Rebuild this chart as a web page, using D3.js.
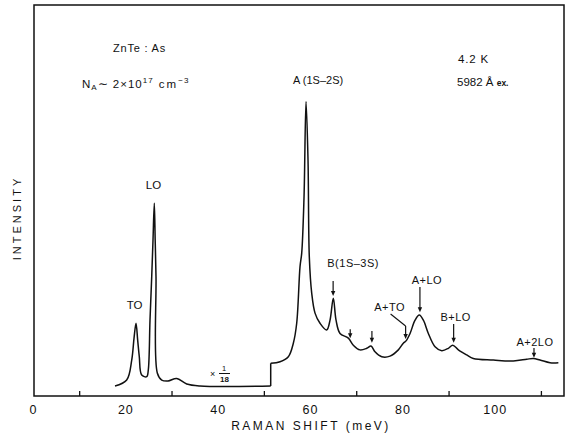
<!DOCTYPE html>
<html>
<head>
<meta charset="utf-8">
<script src="https://cdn.jsdelivr.net/npm/d3@7"></script>
<style>
  body { margin: 0; background: #fff; }
  svg text { font-family: "Liberation Sans", Arial, sans-serif; fill: #111; }
</style>
</head>
<body>
<svg id="chart" width="569" height="435"></svg>
<script>
// axis ticks (meV)
const xTicks = [0, 20, 40, 60, 80, 100];
const xMinorTicks = [10, 30, 50, 70, 90, 110];

// low energy part of the spectrum (shown x 1/18), energy in meV, intensity arb. units
const lowE = [17.76, 20.29, 21.38, 21.88, 22.31, 22.67, 23.02, 23.54, 24.63, 24.97, 25.34, 25.71, 25.99,
  26.27, 26.46, 26.64, 26.92, 27.88, 29.24, 31.12, 33.29, 36.17, 51.48];
const lowI = [2.56, 4.09, 9.2, 14.8, 18.6, 14.3, 10.05, 5.37, 4.94, 6.65, 19.4, 30.5, 39.9,
  49.3, 39.9, 30.5, 5.9, 4.09, 3.84, 4.48, 3.07, 2.56, 2.56];

// high energy part of the spectrum
const highE = [51.48, 53.5, 55.3, 56.38, 57.11, 57.83, 58.2, 58.7, 59.13, 59.56, 59.84, 60.36, 61.08,
  62.16, 63.61, 64.33, 65.04, 65.63, 66.49, 68.29, 69.37, 70.82, 72.28, 73.21, 74.07, 75.53, 77.32,
  79.12, 80.2, 80.79, 81.66, 82.74, 83.67, 84.54, 85.62, 87.07, 88.52, 89.95, 90.9, 92.12, 93.93,
  95.36, 99.7, 104.03, 106.93, 108.36, 109.81, 111.98, 113.78];
const highI = [8.36, 8.77, 10.05, 13.5, 18.6, 33.1, 36.6, 51, 75.3, 60.4, 35.6, 26.3, 21.2,
  18.6, 16.9, 19.4, 25, 19.4, 16, 14.8, 13, 11.8, 12.2, 12.8, 11.3, 10.05, 10.2,
  11.8, 13.5, 14.1, 16, 19.4, 20.7, 19.4, 16, 12.6, 11.6, 12.2, 13, 11.8, 10.5,
  9.6, 9.2, 8.95, 9.4, 9.6, 9.2, 8.5, 8.5];

// arrow annotations
const annLabels = ["B(1S\u20133S)", "", "", "A+TO", "A+LO", "B+LO", "A+2LO"];
const annE = [65.0, 68.7, 73.4, 80.7, 83.8, 91.1, 108.5];
const annTip = [25.6, 14.8, 13.6, 14.6, 21.4, 13.6, 9.8];
const annTail = [29.4, 17.1, 16.6, 17.9, 27.9, 18.4, 12.3];

const svg = d3.select("#chart");
const x = d3.scaleLinear().domain([0, 115]).range([33, 564]);
const y = d3.scaleLinear().domain([0, 100]).range([396, 5]);

// frame
svg.append("rect").attr("x", 34).attr("y", 5).attr("width", 530).attr("height", 391)
  .attr("fill", "none").attr("stroke", "#111").attr("stroke-width", 1.5);

// x axis
const ax = svg.append("g").attr("transform", "translate(0,396)")
  .call(d3.axisBottom(x).tickValues(xTicks).tickSize(0).tickPadding(9));
ax.select(".domain").remove();
ax.selectAll("text").attr("font-size", 12.5).attr("letter-spacing", 1)
  .attr("font-family", "Liberation Sans, Arial, sans-serif").attr("fill", "#111");

const minor = svg.append("g").attr("transform", "translate(0,396)")
  .call(d3.axisBottom(x).tickValues(xMinorTicks).tickSize(-5).tickFormat(""));
minor.select(".domain").remove();
minor.selectAll("line").attr("stroke", "#111").attr("stroke-width", 1.3);

svg.append("text").attr("x", 311).attr("y", 430).attr("text-anchor", "middle")
  .attr("font-size", 12).attr("letter-spacing", 2.5).text("RAMAN SHIFT (meV)");

svg.append("text").attr("transform", "translate(21,218) rotate(-90)").attr("text-anchor", "middle")
  .attr("font-size", 11).attr("letter-spacing", 3).text("INTENSITY");

// spectrum
const line = d3.line().curve(d3.curveCatmullRom.alpha(0.5)).x(d => x(d[0])).y(d => y(d[1]));
const lowPts = lowE.map((e, i) => [e, lowI[i]]);
const highPts = highE.map((e, i) => [e, highI[i]]);
const styleLine = p => p.attr("fill", "none").attr("stroke", "#111").attr("stroke-width", 1.5)
  .attr("stroke-linejoin", "round");
svg.append("path").attr("d", line(lowPts)).call(styleLine);
svg.append("path").attr("d", d3.line().x(d => x(d[0])).y(d => y(d[1]))([lowPts[lowPts.length - 1], highPts[0]]))
  .call(styleLine);
svg.append("path").attr("d", line(highPts)).call(styleLine);

// label placement relative to arrow tail [dx of text centre, dy of baseline]
const labelOffsets = [[20, -14], [0, 0], [0, 0], [-16, -15], [7, -3], [2, -3], [1, -2]];
annE.forEach((e, i) => {
  const ax0 = x(e), y1 = y(annTail[i]), y2 = y(annTip[i]);
  svg.append("line").attr("x1", ax0).attr("x2", ax0).attr("y1", y1).attr("y2", y2 - 4)
    .attr("stroke", "#111").attr("stroke-width", 1.2);
  svg.append("path").attr("d", `M${ax0 - 2.2},${y2 - 5} L${ax0 + 2.2},${y2 - 5} L${ax0},${y2} Z`)
    .attr("fill", "#111");
  if (annLabels[i]) {
    svg.append("text").attr("x", ax0 + labelOffsets[i][0]).attr("y", y1 + labelOffsets[i][1])
      .attr("text-anchor", "middle").attr("font-size", 11).attr("letter-spacing", 0.5)
      .text(annLabels[i]);
  }
});
// A+TO leader
const ato = 3;
svg.append("line").attr("x1", x(annE[ato]) - 15).attr("y1", y(annTail[ato]) - 12)
  .attr("x2", x(annE[ato])).attr("y2", y(annTail[ato])).attr("stroke", "#111").attr("stroke-width", 1.1);

// peak labels
svg.append("text").attr("x", x(22.0)).attr("y", 309).attr("text-anchor", "middle")
  .attr("font-size", 11.5).text("TO");
svg.append("text").attr("x", x(26.1)).attr("y", 189).attr("text-anchor", "middle")
  .attr("font-size", 11.5).text("LO");
svg.append("text").attr("x", 293).attr("y", 84).attr("font-size", 11)
  .text("A (1S\u20132S)");

// x 1/18
svg.append("text").attr("x", 210).attr("y", 377).attr("font-size", 9).text("\u00d7");
svg.append("text").attr("x", 224).attr("y", 371).attr("text-anchor", "middle").attr("font-size", 7.5).text("1");
svg.append("line").attr("x1", 219).attr("x2", 230).attr("y1", 373.5).attr("y2", 373.5)
  .attr("stroke", "#111").attr("stroke-width", 1);
svg.append("text").attr("x", 224.5).attr("y", 382).attr("text-anchor", "middle").attr("font-size", 8)
  .attr("font-weight", "bold").text("18");

// sample info
svg.append("text").attr("x", 113).attr("y", 52).attr("font-size", 11).attr("letter-spacing", 0.8)
  .text("ZnTe : As");
const na = svg.append("text").attr("x", 82).attr("y", 88).attr("font-size", 11.5).attr("letter-spacing", 1);
na.append("tspan").text("N");
na.append("tspan").attr("font-size", 8).attr("dy", 2).text("A");
na.append("tspan").attr("dy", -2).text("\u223c 2\u00d710");
na.append("tspan").attr("font-size", 8).attr("dy", -5).text("17");
na.append("tspan").attr("dy", 5).attr("letter-spacing", 2).text(" cm");
na.append("tspan").attr("font-size", 8).attr("dy", -5).text("\u22123");

svg.append("text").attr("x", 458).attr("y", 63).attr("font-size", 11.5).attr("letter-spacing", 0.8)
  .text("4.2 K");
const ex = svg.append("text").attr("x", 457).attr("y", 86).attr("font-size", 11.5);
ex.append("tspan").text("5982 \u00c5 ");
ex.append("tspan").attr("font-size", 8.5).attr("font-weight", "bold").text("ex.");
</script>
</body>
</html>
